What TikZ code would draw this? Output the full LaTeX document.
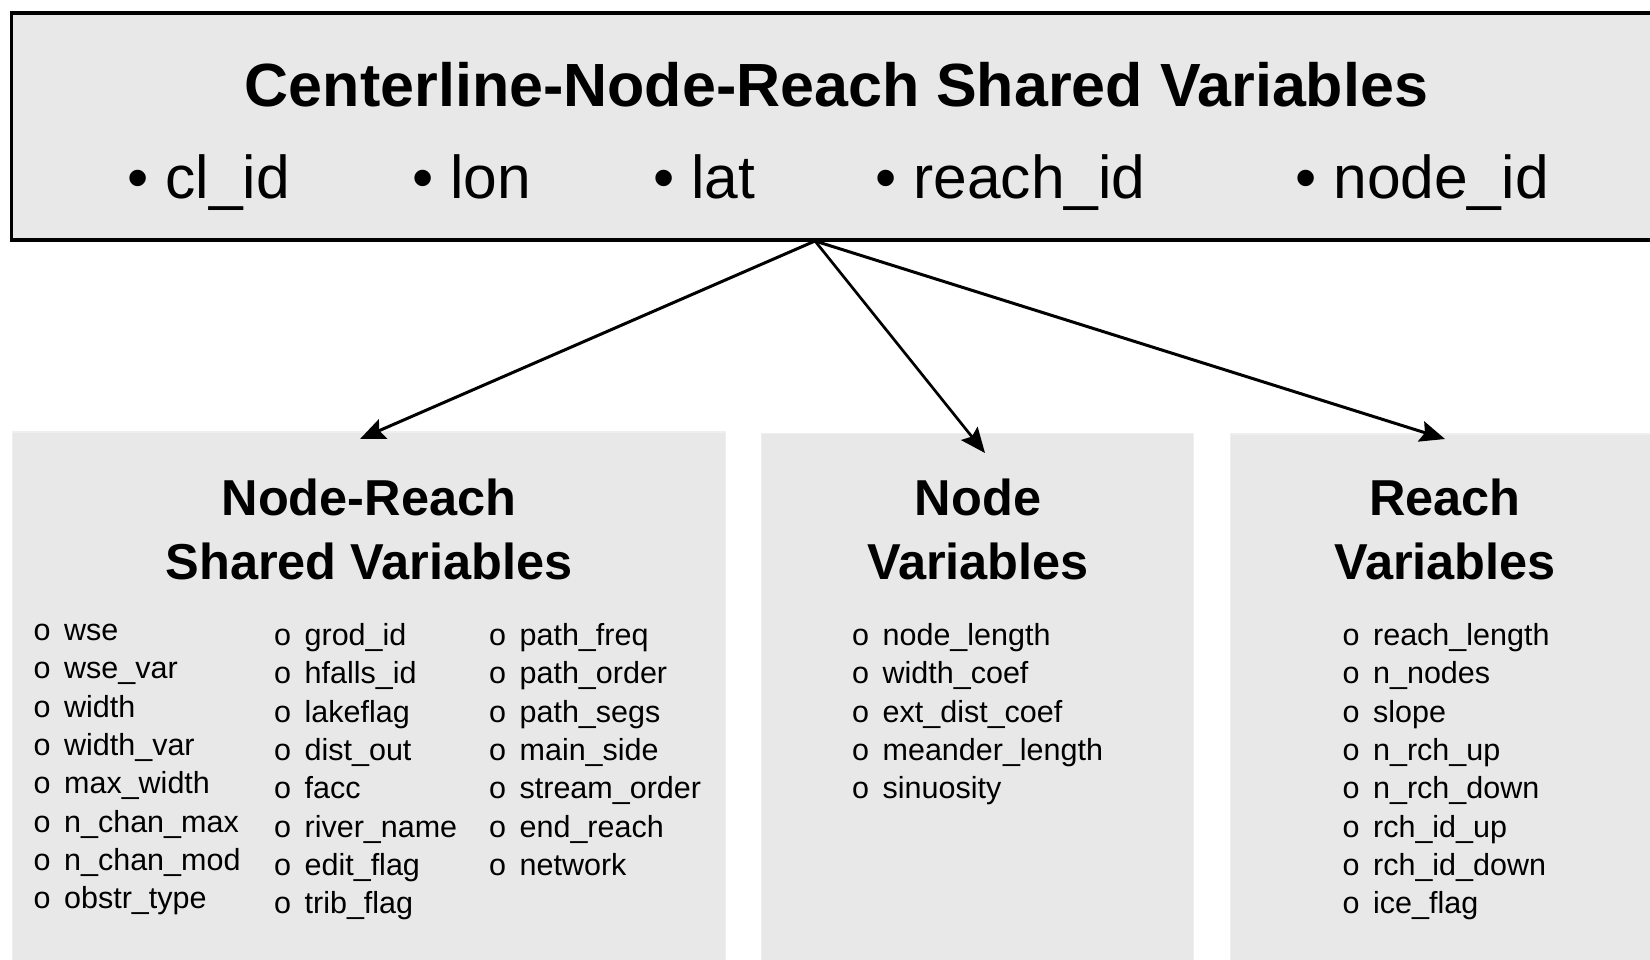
\documentclass[tikz,border=0pt]{standalone}
\usepackage{fontspec}
\setmainfont{Liberation Sans}
\usetikzlibrary{arrows.meta}
\definecolor{boxgray}{HTML}{E8E8E8}
\definecolor{subedge}{HTML}{EFEFEF}
\begin{document}
\begin{tikzpicture}[x=1pt,y=-1pt,
  topbox/.style={draw=black, line width=3.2pt, fill=boxgray, rectangle, inner sep=0pt, outer sep=0pt, anchor=north west},
  subbox/.style={draw=subedge, line width=1.5pt, fill=boxgray, rectangle, inner sep=0pt, outer sep=0pt, anchor=north west},
  titletext/.style={font=\fontsize{61}{70}\selectfont\bfseries, inner sep=0pt, anchor=base},
  toptext/.style={font=\fontsize{60.5}{70}\selectfont, inner sep=0pt, anchor=base west},
  headtext/.style={font=\fontsize{50.5}{64}\selectfont\bfseries, inner sep=0pt, anchor=base},
  itemtext/.style={font=\fontsize{30.5}{38}\selectfont, inner sep=0pt, anchor=base west},
  link/.style={line width=3pt, -{Stealth[length=25pt,width=21pt,inset=4pt]}}
]
\useasboundingbox (0,0) rectangle (1650,960);

% boxes
\node[topbox, minimum width=1660pt, minimum height=227pt] (top) at (11.5,13) {};
\node[subbox, minimum width=713pt, minimum height=560pt] (nr) at (12.6,432) {};
\node[subbox, minimum width=432pt, minimum height=560pt] (nv) at (761.5,433.5) {};
\node[subbox, minimum width=440pt, minimum height=560pt] (rv) at (1230.5,434) {};

% top box text
\node[titletext] (title) at (836.5,107) {Centerline-Node-Reach Shared Variables};
\node[toptext] (s1) at (127.3,199) {• cl\_id};
\node[toptext] (s2) at (412.3,199) {• lon};
\node[toptext] (s3) at (653.3,199) {• lat};
\node[toptext] (s4) at (875.3,199) {• reach\_id};
\node[toptext] (s5) at (1295.3,199) {• node\_id};

% headings
\node[headtext] (h1a) at (369,515) {Node-Reach};
\node[headtext] (h1b) at (369,579) {Shared Variables};
\node[headtext] (h2a) at (978,515) {Node};
\node[headtext] (h2b) at (978,579) {Variables};
\node[headtext] (h3a) at (1445,515) {Reach};
\node[headtext] (h3b) at (1445,579) {Variables};

% lists
\foreach \t [count=\i from 0] in {wse, wse\_var, width, width\_var, max\_width, n\_chan\_max, n\_chan\_mod, obstr\_type}
  \node[itemtext] (a\i) at (33.5,{640.5+38.3*\i}) {o\hspace{13.5pt}\t};
\foreach \t [count=\i from 0] in {grod\_id, hfalls\_id, lakeflag, dist\_out, facc, river\_name, edit\_flag, trib\_flag}
  \node[itemtext] (b\i) at (274,{645.5+38.3*\i}) {o\hspace{13.5pt}\t};
\foreach \t [count=\i from 0] in {path\_freq, path\_order, path\_segs, main\_side, stream\_order, end\_reach, network}
  \node[itemtext] (c\i) at (489,{645.5+38.3*\i}) {o\hspace{13.5pt}\t};
\foreach \t [count=\i from 0] in {node\_length, width\_coef, ext\_dist\_coef, meander\_length, sinuosity}
  \node[itemtext] (d\i) at (852,{645.5+38.3*\i}) {o\hspace{13.5pt}\t};
\foreach \t [count=\i from 0] in {reach\_length, n\_nodes, slope, n\_rch\_up, n\_rch\_down, rch\_id\_up, rch\_id\_down, ice\_flag}
  \node[itemtext] (e\i) at (1342.5,{645.5+38.3*\i}) {o\hspace{13.5pt}\t};

% connectors
\coordinate (src) at (815,241);
\coordinate (t1) at (360,439);
\coordinate (t2) at (985,453);
\coordinate (t3) at (1445,439);
\draw[link] (src) -- (t1);
\draw[link, line width=2.7pt] (src) -- (t2);
\draw[link] (src) -- (t3);
\end{tikzpicture}
\end{document}
